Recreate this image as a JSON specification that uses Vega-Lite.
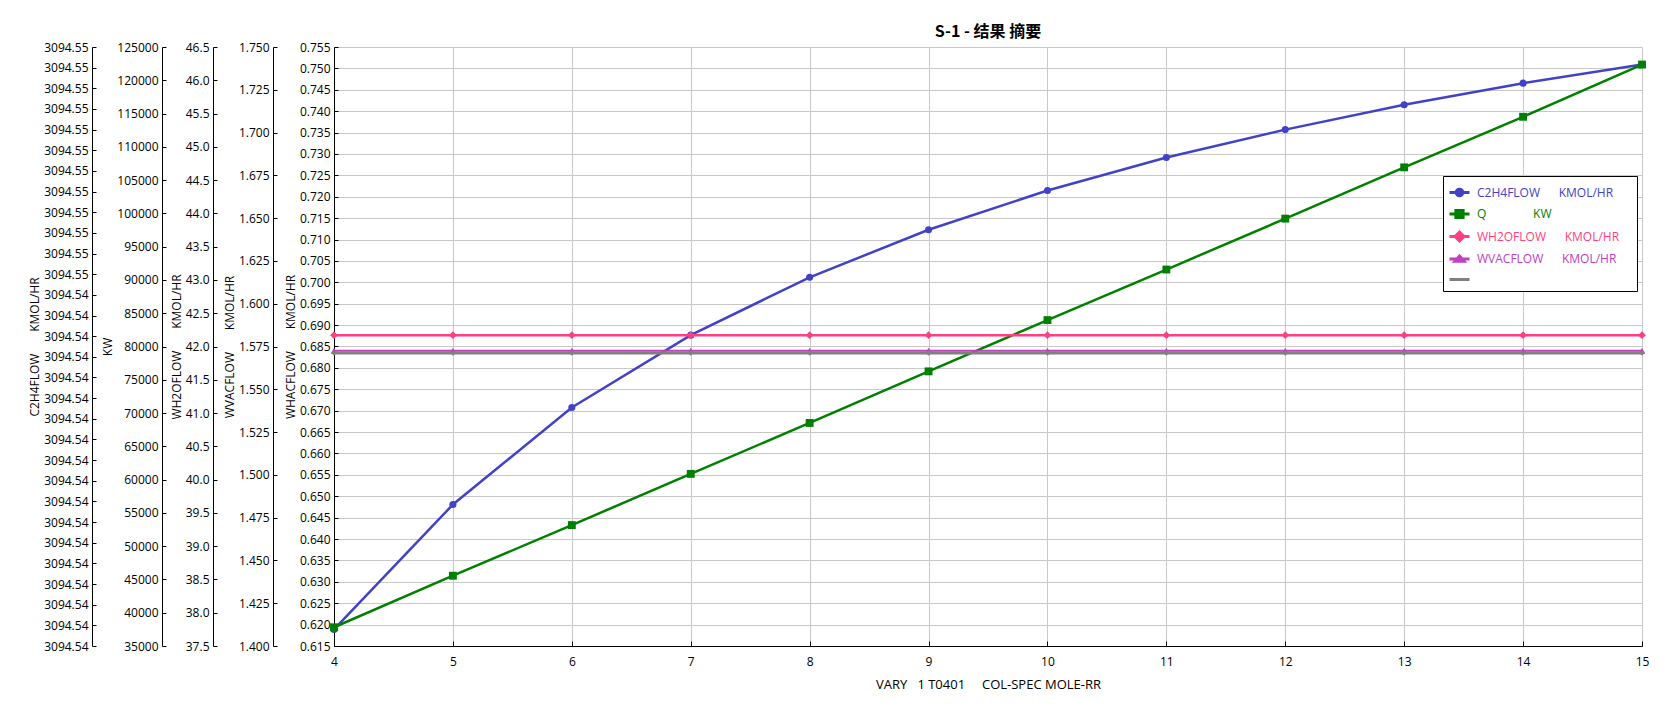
{
  "$schema": "https://vega.github.io/schema/vega-lite/v6.json",
  "width": 1308,
  "height": 599,
  "autosize": "none",
  "padding": {"left": 334, "top": 47, "right": 30, "bottom": 69},
  "background": "white",
  "title": {"text": "S-1 - 结果 摘要", "font": "Noto Sans CJK SC", "fontSize": 16, "fontWeight": "bold", "color": "#000", "anchor": "middle", "frame": "group", "offset": 1},
  "data": {
    "values": [
      {"x": 4, "C2H4FLOW": 3094.54166, "Q": 37816, "WH2OFLOW": 42.17, "WVACFLOW": 1.5725, "WHACFLOW": 0.6835},
      {"x": 5, "C2H4FLOW": 3094.54287, "Q": 45562, "WH2OFLOW": 42.17, "WVACFLOW": 1.5725, "WHACFLOW": 0.6835},
      {"x": 6, "C2H4FLOW": 3094.54381, "Q": 53167, "WH2OFLOW": 42.17, "WVACFLOW": 1.5725, "WHACFLOW": 0.6835},
      {"x": 7, "C2H4FLOW": 3094.54451, "Q": 60862, "WH2OFLOW": 42.17, "WVACFLOW": 1.5725, "WHACFLOW": 0.6835},
      {"x": 8, "C2H4FLOW": 3094.54507, "Q": 68512, "WH2OFLOW": 42.17, "WVACFLOW": 1.5725, "WHACFLOW": 0.6835},
      {"x": 9, "C2H4FLOW": 3094.54553, "Q": 76265, "WH2OFLOW": 42.17, "WVACFLOW": 1.5725, "WHACFLOW": 0.6835},
      {"x": 10, "C2H4FLOW": 3094.54591, "Q": 83966, "WH2OFLOW": 42.17, "WVACFLOW": 1.5725, "WHACFLOW": 0.6835},
      {"x": 11, "C2H4FLOW": 3094.54623, "Q": 91565, "WH2OFLOW": 42.17, "WVACFLOW": 1.5725, "WHACFLOW": 0.6835},
      {"x": 12, "C2H4FLOW": 3094.5465, "Q": 99215, "WH2OFLOW": 42.17, "WVACFLOW": 1.5725, "WHACFLOW": 0.6835},
      {"x": 13, "C2H4FLOW": 3094.54674, "Q": 106916, "WH2OFLOW": 42.17, "WVACFLOW": 1.5725, "WHACFLOW": 0.6835},
      {"x": 14, "C2H4FLOW": 3094.54695, "Q": 114515, "WH2OFLOW": 42.17, "WVACFLOW": 1.5725, "WHACFLOW": 0.6835},
      {"x": 15, "C2H4FLOW": 3094.54713, "Q": 122364, "WH2OFLOW": 42.17, "WVACFLOW": 1.5725, "WHACFLOW": 0.6835}
    ]
  },
  "config": {
    "view": {"stroke": null},
    "font": "Open Sans",
    "axis": {"labelFont": "Open Sans", "labelFontSize": 12, "labelColor": "#000", "titleFont": "Open Sans", "titleFontSize": 12, "titleFontWeight": "normal", "titleColor": "#000", "domainColor": "#000", "domainWidth": 1, "tickColor": "#000", "tickWidth": 1, "gridColor": "#c8c8c8", "gridWidth": 1, "gridOpacity": 1, "labelOverlap": false},
    "axisY": {"tickSize": -4, "labelPadding": 8, "titlePadding": 2},
    "axisX": {"tickSize": -5, "labelPadding": 15, "titlePadding": 11}
  },
  "encoding": {
    "x": {"field": "x", "type": "quantitative", "scale": {"domain": [4, 15], "nice": false, "zero": false},
      "axis": {"values": [4, 5, 6, 7, 8, 9, 10, 11, 12, 13, 14, 15], "format": "d", "grid": true, "labelFlush": false, "titleFontSize": 13, "title": "VARY\u00a0\u00a0\u00a01\u00a0T0401\u00a0\u00a0\u00a0\u00a0\u00a0COL-SPEC\u00a0MOLE-RR"}}
  },
  "layer": [
    {
      "encoding": {
        "y": {"field": "C2H4FLOW", "type": "quantitative", "scale": {"domain": [3094.5415, 3094.5473], "nice": false, "zero": false},
          "axis": {"orient": "left", "offset": 242, "grid": false, "format": ".2f", "title": "C2H4FLOW\u00a0\u00a0\u00a0\u00a0\u00a0\u00a0\u00a0KMOL/HR",
            "values": [3094.5415, 3094.5417, 3094.5419, 3094.5421, 3094.5423, 3094.5425, 3094.5427, 3094.5429, 3094.5431, 3094.5433, 3094.5435, 3094.5437, 3094.5439, 3094.5441, 3094.5443, 3094.5445, 3094.5447, 3094.5449, 3094.5451, 3094.5453, 3094.5455, 3094.5457, 3094.5459, 3094.5461, 3094.5463, 3094.5465, 3094.5467, 3094.5469, 3094.5471, 3094.5473]}},
        "color": {"datum": "C2H4FLOW", "type": "nominal",
          "scale": {"domain": ["C2H4FLOW", "Q", "WH2OFLOW", "WVACFLOW", "WHACFLOW"], "range": ["#4242c8", "#008000", "#ff4080", "#c040c0", "#808080"]},
          "legend": {
            "orient": "none", "legendX": 1109, "legendY": 129, "title": null,
            "padding": 5, "strokeColor": "#000", "fillColor": "white", "rowPadding": 0.5,
            "symbolSize": 400, "symbolStrokeWidth": 3, "symbolOpacity": 1, "labelOffset": 6,
            "labelFont": "Open Sans", "labelFontSize": 12, "labelLimit": 400,
            "labelExpr": "datum.value == 'C2H4FLOW' ? 'C2H4FLOW\u00a0\u00a0\u00a0\u00a0\u00a0\u00a0KMOL/HR' : datum.value == 'Q' ? 'Q\u00a0\u00a0\u00a0\u00a0\u00a0\u00a0\u00a0\u00a0\u00a0\u00a0\u00a0\u00a0\u00a0\u00a0\u00a0KW' : datum.value == 'WH2OFLOW' ? 'WH2OFLOW\u00a0\u00a0\u00a0\u00a0\u00a0\u00a0KMOL/HR\u00a0\u2800' : datum.value == 'WVACFLOW' ? 'WVACFLOW\u00a0\u00a0\u00a0\u00a0\u00a0\u00a0KMOL/HR' : ''",
            "symbolType": {"expr": "datum.value == 'C2H4FLOW' ? 'M-1,0H1M-0.33,0A0.33,0.33,0,1,1,0.33,0A0.33,0.33,0,1,1,-0.33,0Z' : datum.value == 'Q' ? 'M-1,0H1M-0.36,-0.36H0.36V0.36H-0.36Z' : datum.value == 'WH2OFLOW' ? 'M-1,0H1M-0.45,0L0,-0.45L0.45,0L0,0.45Z' : datum.value == 'WVACFLOW' ? 'M-1,0H1M-0.45,0.22L0,-0.3L0.45,0.22Z' : 'M-1,0H1'"},
            "labelColor": {"expr": "datum.value == 'C2H4FLOW' ? '#4242c8' : datum.value == 'Q' ? '#008000' : datum.value == 'WH2OFLOW' ? '#ff4080' : datum.value == 'WVACFLOW' ? '#c040c0' : '#808080'"}
          }}
      },
      "layer": [
        {"mark": {"type": "line", "strokeWidth": 2.5}},
        {"mark": {"type": "point", "shape": "circle", "filled": true, "size": 50, "opacity": 1}}
      ]
    },
    {
      "encoding": {
        "y": {"field": "Q", "type": "quantitative", "scale": {"domain": [35000, 125000], "nice": false, "zero": false},
          "axis": {"orient": "left", "offset": 172, "grid": false, "format": "d", "title": "KW",
            "values": [35000, 40000, 45000, 50000, 55000, 60000, 65000, 70000, 75000, 80000, 85000, 90000, 95000, 100000, 105000, 110000, 115000, 120000, 125000]}},
        "color": {"datum": "Q", "type": "nominal"}
      },
      "layer": [
        {"mark": {"type": "line", "strokeWidth": 2.5}},
        {"mark": {"type": "point", "shape": "square", "filled": true, "size": 62, "opacity": 1}}
      ]
    },
    {
      "encoding": {
        "y": {"field": "WH2OFLOW", "type": "quantitative", "scale": {"domain": [37.5, 46.5], "nice": false, "zero": false},
          "axis": {"orient": "left", "offset": 121, "grid": false, "format": ".1f", "title": "WH2OFLOW\u00a0\u00a0\u00a0\u00a0\u00a0\u00a0\u00a0KMOL/HR",
            "values": [37.5, 38, 38.5, 39, 39.5, 40, 40.5, 41, 41.5, 42, 42.5, 43, 43.5, 44, 44.5, 45, 45.5, 46, 46.5]}},
        "color": {"datum": "WH2OFLOW", "type": "nominal"}
      },
      "layer": [
        {"mark": {"type": "line", "strokeWidth": 2.5}},
        {"mark": {"type": "point", "shape": "diamond", "filled": true, "size": 60, "opacity": 1}}
      ]
    },
    {
      "encoding": {
        "y": {"field": "WVACFLOW", "type": "quantitative", "scale": {"domain": [1.4, 1.75], "nice": false, "zero": false},
          "axis": {"orient": "left", "offset": 61, "grid": false, "format": ".3f", "title": "WVACFLOW\u00a0\u00a0\u00a0\u00a0\u00a0\u00a0\u00a0KMOL/HR",
            "values": [1.4, 1.425, 1.45, 1.475, 1.5, 1.525, 1.55, 1.575, 1.6, 1.625, 1.65, 1.675, 1.7, 1.725, 1.75]}},
        "color": {"datum": "WVACFLOW", "type": "nominal"}
      },
      "layer": [
        {"mark": {"type": "line", "strokeWidth": 2}},
        {"mark": {"type": "point", "shape": "triangle-up", "filled": true, "size": 45, "opacity": 1}}
      ]
    },
    {
      "encoding": {
        "y": {"field": "WHACFLOW", "type": "quantitative", "scale": {"domain": [0.615, 0.755], "nice": false, "zero": false},
          "axis": {"orient": "left", "offset": 0, "grid": true, "format": ".3f", "title": "WHACFLOW\u00a0\u00a0\u00a0\u00a0\u00a0\u00a0\u00a0KMOL/HR",
            "values": [0.615, 0.62, 0.625, 0.63, 0.635, 0.64, 0.645, 0.65, 0.655, 0.66, 0.665, 0.67, 0.675, 0.68, 0.685, 0.69, 0.695, 0.7, 0.705, 0.71, 0.715, 0.72, 0.725, 0.73, 0.735, 0.74, 0.745, 0.75, 0.755]}},
        "color": {"datum": "WHACFLOW", "type": "nominal"}
      },
      "layer": [
        {"mark": {"type": "line", "strokeWidth": 3}},
        {"mark": {"type": "point", "shape": "diamond", "filled": true, "size": 30, "opacity": 1}}
      ]
    }
  ],
  "resolve": {"scale": {"y": "independent"}, "axis": {"y": "independent"}}
}
